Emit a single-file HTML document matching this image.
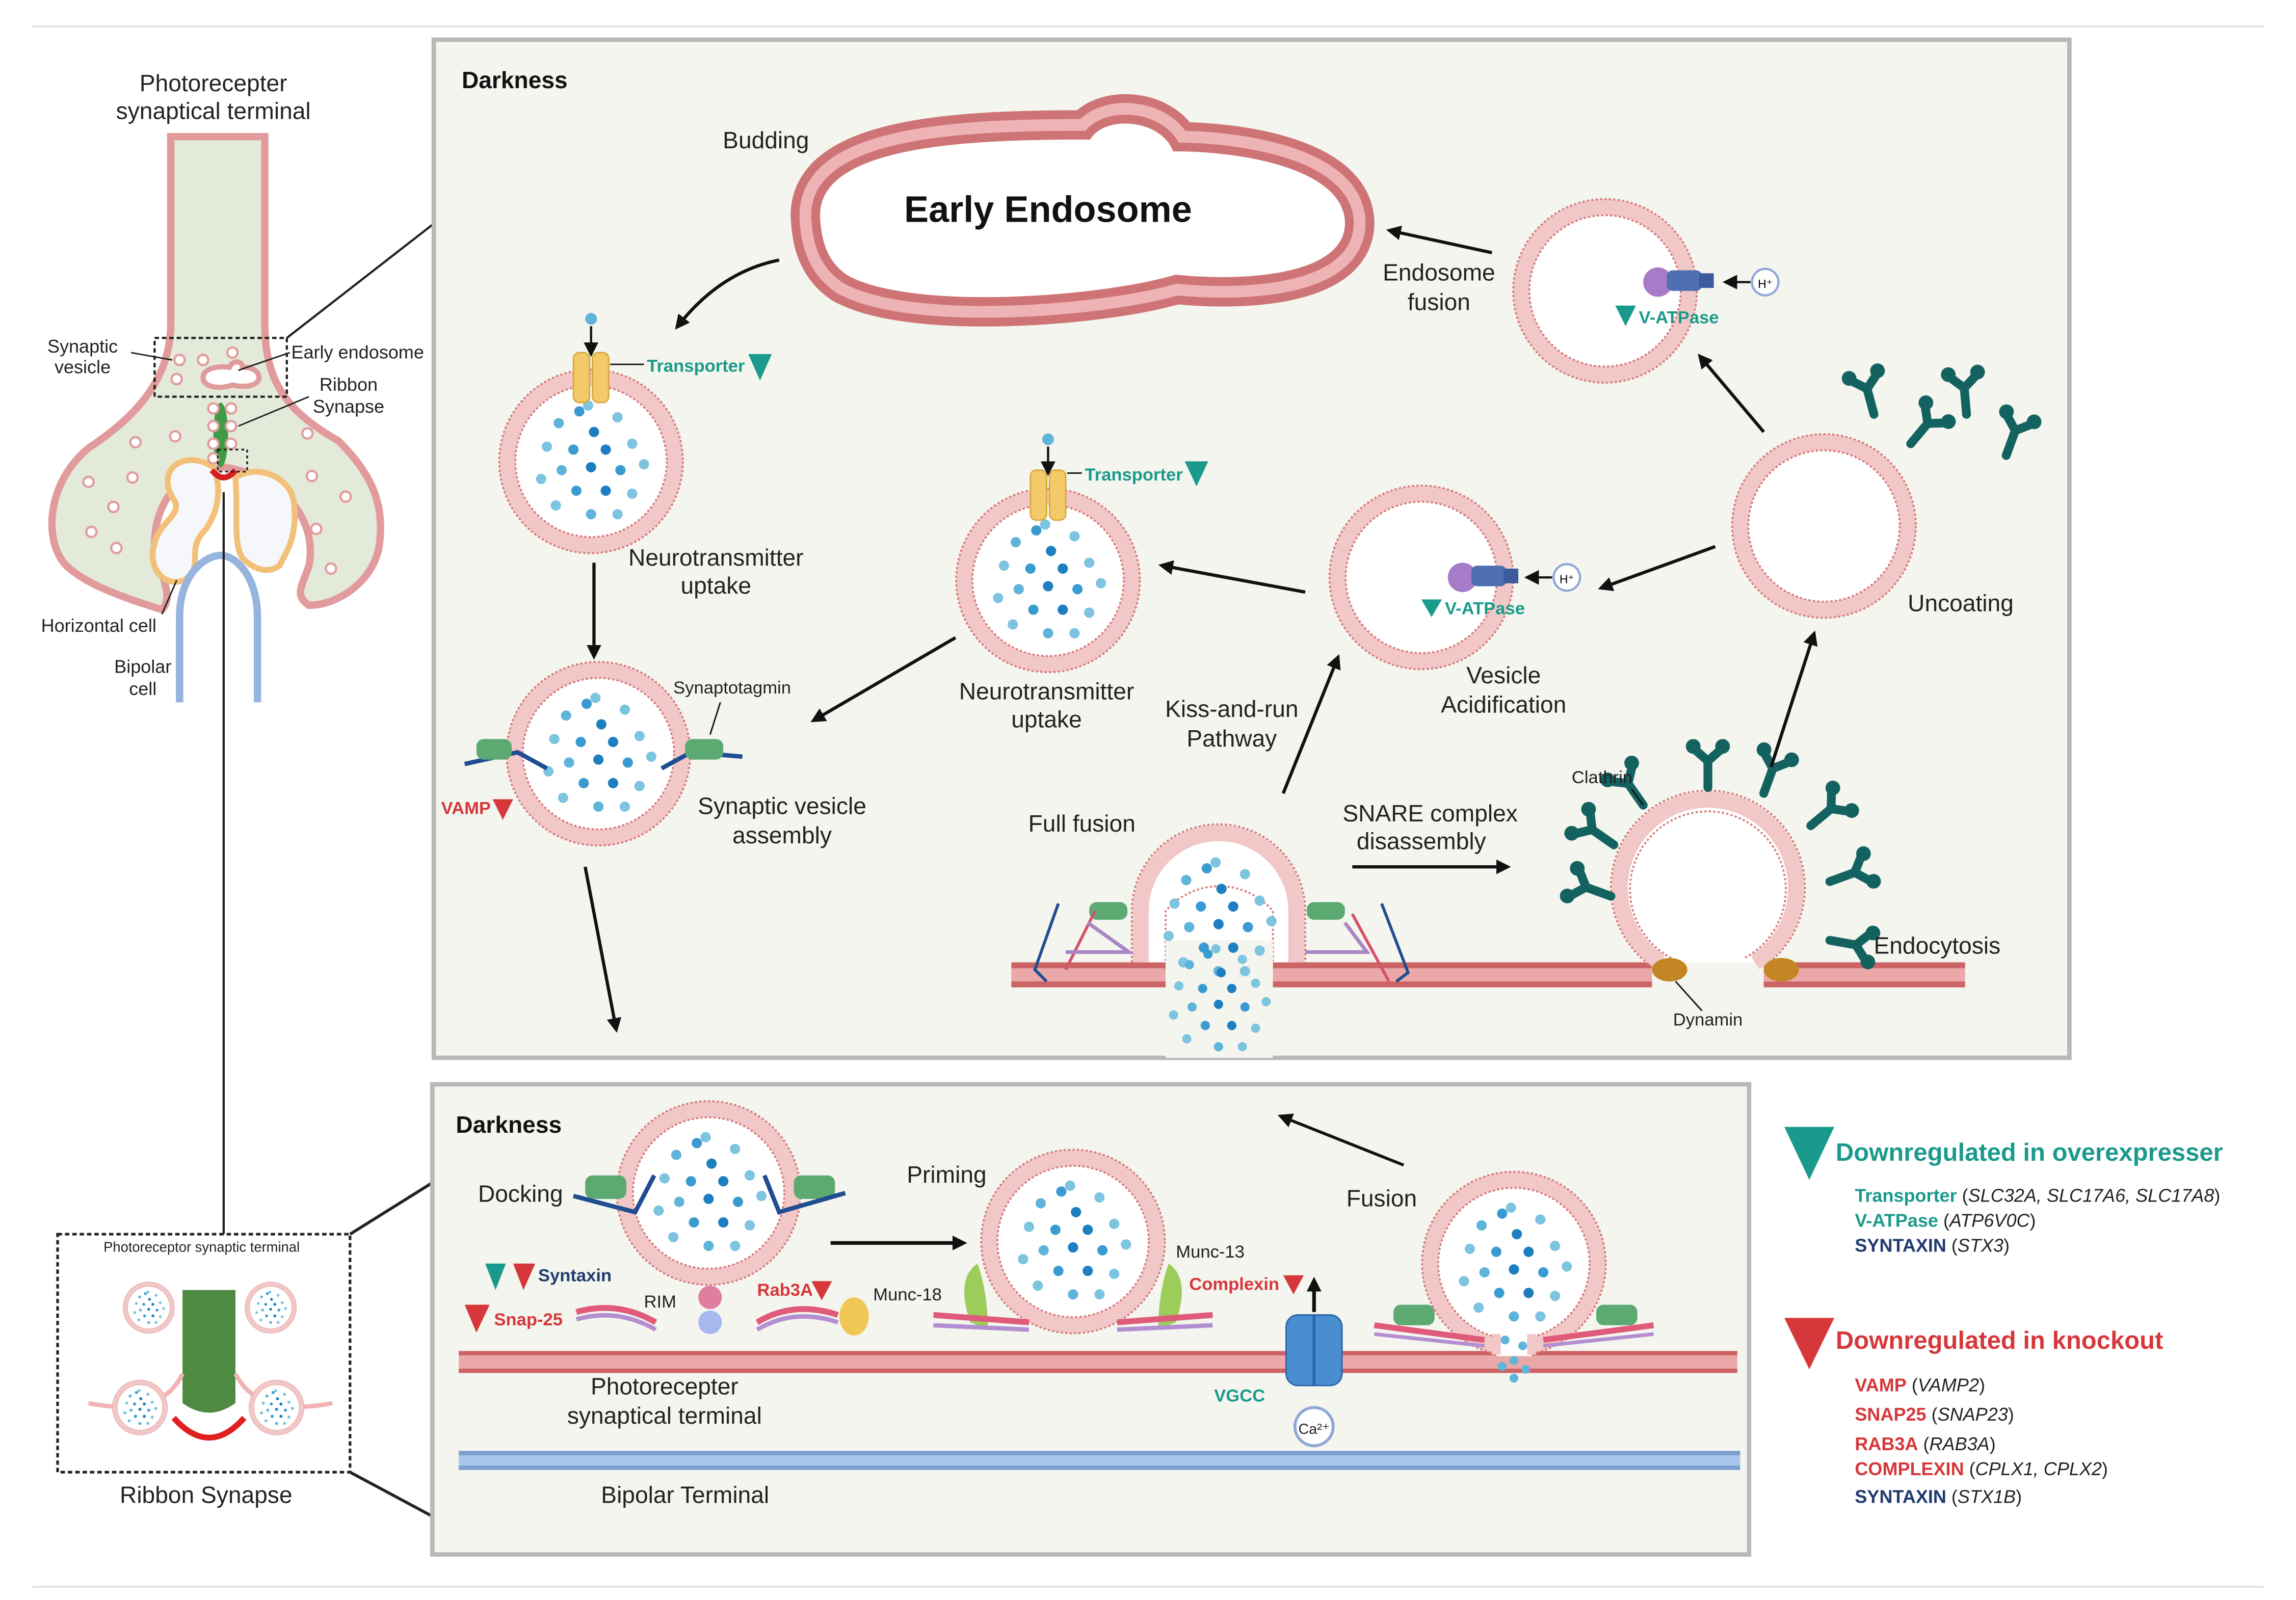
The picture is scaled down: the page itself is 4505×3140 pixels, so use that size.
<!DOCTYPE html>
<html><head><meta charset="utf-8"><style>
html,body{margin:0;padding:0;background:#fff;}
svg{display:block;}
text{font-family:"Liberation Sans",sans-serif;}
</style></head><body>
<svg width="4505" height="3140" viewBox="0 0 1562 1089" xmlns="http://www.w3.org/2000/svg">
<defs>
<marker id="ah" markerWidth="10" markerHeight="10" refX="7" refY="5" orient="auto" markerUnits="userSpaceOnUse"><path d="M0,0 L10,5 L0,10 Z" fill="#111"/></marker>
<g id="ves">
<circle r="57" fill="#fff" stroke="#f2c7c7" stroke-width="11"/>
<circle r="62.5" fill="none" stroke="#d77a7c" stroke-width="1.3" stroke-dasharray="1.5 1.5"/>
<circle r="51.5" fill="none" stroke="#d77a7c" stroke-width="1.3" stroke-dasharray="1.5 1.5"/>
</g>
<g id="dots">
<circle cx="-2" cy="-38" r="3.5" fill="#7cc4e0"/><circle cx="18" cy="-30" r="3.5" fill="#7cc4e0"/>
<circle cx="-22" cy="-26" r="3.5" fill="#5fb4da"/><circle cx="2" cy="-20" r="3.5" fill="#1d7fbf"/>
<circle cx="-30" cy="-10" r="3.5" fill="#7cc4e0"/><circle cx="-12" cy="-8" r="3.5" fill="#3a9bd0"/>
<circle cx="10" cy="-8" r="3.5" fill="#1d7fbf"/><circle cx="28" cy="-12" r="3.5" fill="#7cc4e0"/>
<circle cx="-20" cy="6" r="3.5" fill="#5fb4da"/><circle cx="0" cy="4" r="3.5" fill="#1d7fbf"/>
<circle cx="20" cy="6" r="3.5" fill="#3a9bd0"/><circle cx="36" cy="2" r="3.5" fill="#7cc4e0"/>
<circle cx="-34" cy="12" r="3.5" fill="#7cc4e0"/><circle cx="-10" cy="20" r="3.5" fill="#3a9bd0"/>
<circle cx="10" cy="20" r="3.5" fill="#1d7fbf"/><circle cx="28" cy="22" r="3.5" fill="#7cc4e0"/>
<circle cx="-24" cy="30" r="3.5" fill="#7cc4e0"/><circle cx="0" cy="36" r="3.5" fill="#5fb4da"/>
<circle cx="18" cy="36" r="3.5" fill="#7cc4e0"/><circle cx="-8" cy="-34" r="3.5" fill="#3a9bd0"/>
</g>
<g id="trans"><rect x="-12" y="-18" width="11" height="34" rx="4" fill="#f3c969" stroke="#d9a93a"/><rect x="1" y="-18" width="11" height="34" rx="4" fill="#f3c969" stroke="#d9a93a"/></g>
<g id="vat"><circle cx="-12" cy="0" r="10" fill="#a77bc7"/><rect x="-6" y="-8" width="24" height="14" rx="4" fill="#4f6fb3"/><rect x="16" y="-6" width="10" height="10" fill="#3c5b9e"/></g>
<g id="clat" fill="#136260"><path d="M0,0 L0,-18 M0,-18 L-9,-26 M0,-18 L9,-26" stroke="#136260" stroke-width="6" stroke-linecap="round"/><circle cx="-10" cy="-28" r="5"/><circle cx="10" cy="-28" r="5"/></g>
</defs>

<line x1="22" y1="18" x2="1540" y2="18" stroke="#e3e3e3" stroke-width="1.5"/>
<line x1="22" y1="1080" x2="1540" y2="1080" stroke="#e3e3e3" stroke-width="1.5"/>

<!-- LEFT FIGURE -->
<text x="145" y="62" font-size="16" text-anchor="middle" fill="#222">Photorecepter</text>
<text x="145" y="81" font-size="16" text-anchor="middle" fill="#222">synaptical terminal</text>
<path d="M116,93 L116,220 C116,260 90,285 60,305 C30,330 30,370 45,385 C60,400 95,410 110,415 C120,405 105,385 105,370 C105,340 125,320 145,320 L150,318 C155,318 165,320 175,325 C200,335 215,360 210,385 C205,400 200,405 210,412 C230,412 255,395 258,370 C262,340 250,320 230,300 C195,280 180,260 180,220 L180,93 Z" fill="#e3ead9" stroke="#e19b9c" stroke-width="5"/>
<path d="M118,340 C105,320 125,305 145,318 C150,330 150,345 140,360 C125,375 140,385 125,395 C110,400 100,385 105,370 C108,355 125,350 118,340 Z" fill="#f6f7fb" stroke="#f2c079" stroke-width="4"/>
<path d="M160,325 C175,315 200,325 200,345 C202,365 195,375 190,385 C180,392 170,385 165,380 C158,370 162,350 160,325 Z" fill="#f6f7fb" stroke="#f2c079" stroke-width="4"/>
<path d="M122,478 L122,420 C122,390 140,378 150,378 C160,378 175,392 175,420 L175,478" fill="none" stroke="#96b4dd" stroke-width="5"/>
<path d="M138,257 C138,250 150,249 156,250 C158,245 164,245 165,250 C172,250 176,253 176,257 C176,263 165,264 158,262 C150,265 138,264 138,257 Z" fill="#fff" stroke="#e19b9c" stroke-width="3.5"/>
<ellipse cx="150" cy="296" rx="5" ry="22" fill="#3f9b46"/>
<path d="M144,320 Q152,330 160,320" stroke="#d41f1f" stroke-width="4" fill="none"/>
<g fill="#fff" stroke="#e19b9c" stroke-width="1.5">
<circle cx="122" cy="245" r="3.5"/><circle cx="138" cy="245" r="3.5"/><circle cx="120" cy="258" r="3.5"/><circle cx="158" cy="240" r="3.5"/>
<circle cx="145" cy="278" r="3.5"/><circle cx="145" cy="290" r="3.5"/><circle cx="145" cy="302" r="3.5"/><circle cx="145" cy="312" r="3.5"/>
<circle cx="157" cy="278" r="3.5"/><circle cx="157" cy="290" r="3.5"/><circle cx="157" cy="302" r="3.5"/>
<circle cx="92" cy="301" r="3.5"/><circle cx="119" cy="297" r="3.5"/><circle cx="60" cy="328" r="3.5"/><circle cx="90" cy="325" r="3.5"/>
<circle cx="77" cy="345" r="3.5"/><circle cx="62" cy="362" r="3.5"/><circle cx="79" cy="373" r="3.5"/><circle cx="209" cy="295" r="3.5"/>
<circle cx="212" cy="324" r="3.5"/><circle cx="235" cy="338" r="3.5"/><circle cx="215" cy="360" r="3.5"/><circle cx="225" cy="387" r="3.5"/>
</g>
<rect x="105" y="230" width="90" height="40" fill="none" stroke="#222" stroke-width="1.5" stroke-dasharray="3 2"/>
<rect x="148" y="306" width="20" height="15" fill="none" stroke="#222" stroke-width="1.2" stroke-dasharray="2 2"/>
<line x1="89" y1="240" x2="117" y2="245" stroke="#222" stroke-width="1"/>
<line x1="197" y1="240" x2="162" y2="252" stroke="#222" stroke-width="1"/>
<line x1="210" y1="270" x2="162" y2="290" stroke="#222" stroke-width="1"/>
<line x1="110" y1="418" x2="120" y2="395" stroke="#222" stroke-width="1"/>
<text x="56" y="240" font-size="12.5" text-anchor="middle" fill="#222">Synaptic</text>
<text x="56" y="254" font-size="12.5" text-anchor="middle" fill="#222">vesicle</text>
<text x="198" y="244" font-size="12.5" fill="#222">Early endosome</text>
<text x="237" y="266" font-size="12.5" text-anchor="middle" fill="#222">Ribbon</text>
<text x="237" y="281" font-size="12.5" text-anchor="middle" fill="#222">Synapse</text>
<text x="67" y="430" font-size="12.5" text-anchor="middle" fill="#222">Horizontal cell</text>
<text x="97" y="458" font-size="12.5" text-anchor="middle" fill="#222">Bipolar</text>
<text x="97" y="473" font-size="12.5" text-anchor="middle" fill="#222">cell</text>

<line x1="195" y1="230" x2="294" y2="153" stroke="#222" stroke-width="1.5"/>
<line x1="152" y1="335" x2="152" y2="840" stroke="#222" stroke-width="1.5"/>
<line x1="238" y1="840" x2="294" y2="805" stroke="#222" stroke-width="2"/>
<line x1="238" y1="1002" x2="294" y2="1032" stroke="#222" stroke-width="2"/>

<rect x="39" y="840" width="199" height="162" fill="#fff" stroke="#222" stroke-width="1.8" stroke-dasharray="3 2"/>
<text x="137" y="852" font-size="9.5" text-anchor="middle" fill="#222">Photoreceptor synaptic terminal</text>
<path d="M124,878 L160,878 L160,955 Q142,968 124,955 Z" fill="#4f8a42"/>
<path d="M118,965 Q142,992 166,965" stroke="#e02020" stroke-width="4" fill="none"/>
<path d="M60,955 Q110,965 124,935 M226,955 Q175,965 160,935" stroke="#f1b3b3" stroke-width="3" fill="none"/>
<g transform="translate(101,890) scale(0.28)"><use href="#ves"/><use href="#dots"/></g>
<g transform="translate(184,890) scale(0.28)"><use href="#ves"/><use href="#dots"/></g>
<g transform="translate(95,958) scale(0.3)"><use href="#ves"/><use href="#dots"/></g>
<g transform="translate(188,958) scale(0.3)"><use href="#ves"/><use href="#dots"/></g>
<text x="140" y="1023" font-size="16" text-anchor="middle" fill="#222">Ribbon Synapse</text>

<!-- TOP PANEL -->
<rect x="295" y="27" width="1113" height="693" fill="#f3f5ee" stroke="#b8b8b8" stroke-width="3"/>
<text x="314" y="60" font-size="16" font-weight="bold" fill="#111">Darkness</text>

<path d="M555,150 C550,95 660,92 740,92 C752,75 790,78 800,100 C840,100 915,110 918,150 C920,190 850,195 800,190 C750,205 620,215 575,190 C560,180 556,165 555,150 Z" fill="#fff" stroke="#cf7476" stroke-width="34"/>
<path d="M555,150 C550,95 660,92 740,92 C752,75 790,78 800,100 C840,100 915,110 918,150 C920,190 850,195 800,190 C750,205 620,215 575,190 C560,180 556,165 555,150 Z" fill="none" stroke="#eeb3b4" stroke-width="22"/>
<path d="M555,150 C550,95 660,92 740,92 C752,75 790,78 800,100 C840,100 915,110 918,150 C920,190 850,195 800,190 C750,205 620,215 575,190 C560,180 556,165 555,150 Z" fill="#fff" stroke="#cf7476" stroke-width="6"/>
<text x="713" y="151" font-size="25" font-weight="bold" text-anchor="middle" fill="#111">Early Endosome</text>
<text x="521" y="101" font-size="16" text-anchor="middle" fill="#222">Budding</text>

<g transform="translate(402,314)"><use href="#ves"/><use href="#dots"/></g>
<g transform="translate(402,258)"><use href="#trans"/></g>
<circle cx="402" cy="217" r="4" fill="#5fb4da"/><line x1="402" y1="222" x2="402" y2="240" stroke="#111" stroke-width="1.5" marker-end="url(#ah)"/>
<line x1="415" y1="248" x2="438" y2="248" stroke="#111" stroke-width="1"/>
<text x="440" y="253" font-size="12" font-weight="bold" fill="#1a9a8c">Transporter</text>
<path d="M509,241 L525,241 L517,259 Z" fill="#1a9a8c"/>
<text x="487" y="385" font-size="16" text-anchor="middle" fill="#222">Neurotransmitter</text>
<text x="487" y="404" font-size="16" text-anchor="middle" fill="#222">uptake</text>

<g transform="translate(713,395)"><use href="#ves"/><use href="#dots"/></g>
<g transform="translate(713,338)"><use href="#trans"/></g>
<circle cx="713" cy="299" r="4" fill="#5fb4da"/><line x1="713" y1="304" x2="713" y2="321" stroke="#111" stroke-width="1.5" marker-end="url(#ah)"/>
<line x1="726" y1="322" x2="736" y2="322" stroke="#111" stroke-width="1"/>
<text x="738" y="327" font-size="12" font-weight="bold" fill="#1a9a8c">Transporter</text>
<path d="M806,314 L822,314 L814,331 Z" fill="#1a9a8c"/>
<text x="712" y="476" font-size="16" text-anchor="middle" fill="#222">Neurotransmitter</text>
<text x="712" y="495" font-size="16" text-anchor="middle" fill="#222">uptake</text>

<g transform="translate(407,513)"><use href="#ves"/><use href="#dots"/></g>
<path d="M316,520 L352,512 L372,523" stroke="#1f4d8f" stroke-width="3" fill="none"/>
<path d="M505,515 L470,512 L450,523" stroke="#1f4d8f" stroke-width="3" fill="none"/>
<rect x="324" y="503" width="24" height="14" rx="5" fill="#5caa72"/>
<rect x="466" y="503" width="26" height="14" rx="5" fill="#5caa72"/>
<line x1="483" y1="500" x2="490" y2="478" stroke="#111" stroke-width="1"/>
<text x="458" y="472" font-size="12" fill="#222">Synaptotagmin</text>
<text x="300" y="554" font-size="12" font-weight="bold" fill="#d6373a">VAMP</text>
<path d="M335,544 L349,544 L342,558 Z" fill="#d6373a"/>
<text x="532" y="554" font-size="16" text-anchor="middle" fill="#222">Synaptic vesicle</text>
<text x="532" y="574" font-size="16" text-anchor="middle" fill="#222">assembly</text>

<g transform="translate(967,393)"><use href="#ves"/></g>
<g transform="translate(1007,393)"><use href="#vat"/></g>
<circle cx="1066" cy="393" r="9" fill="#fff" stroke="#8fa7d8" stroke-width="1.5"/><text x="1066" y="397" font-size="8" text-anchor="middle">H⁺</text>
<line x1="1056" y1="393" x2="1040" y2="393" stroke="#111" stroke-width="1.5" marker-end="url(#ah)"/>
<path d="M967,408 L981,408 L974,420 Z" fill="#1a9a8c"/>
<text x="983" y="418" font-size="12" font-weight="bold" fill="#1a9a8c">V-ATPase</text>
<text x="1023" y="465" font-size="16" text-anchor="middle" fill="#222">Vesicle</text>
<text x="1023" y="485" font-size="16" text-anchor="middle" fill="#222">Acidification</text>
<text x="838" y="488" font-size="16" text-anchor="middle" fill="#222">Kiss-and-run</text>
<text x="838" y="508" font-size="16" text-anchor="middle" fill="#222">Pathway</text>

<g transform="translate(1092,198)"><use href="#ves"/></g>
<g transform="translate(1140,192)"><use href="#vat"/></g>
<circle cx="1201" cy="192" r="9" fill="#fff" stroke="#8fa7d8" stroke-width="1.5"/><text x="1201" y="196" font-size="8" text-anchor="middle">H⁺</text>
<line x1="1191" y1="192" x2="1175" y2="192" stroke="#111" stroke-width="1.5" marker-end="url(#ah)"/>
<path d="M1099,208 L1113,208 L1106,222 Z" fill="#1a9a8c"/>
<text x="1115" y="220" font-size="12" font-weight="bold" fill="#1a9a8c">V-ATPase</text>
<text x="979" y="191" font-size="16" text-anchor="middle" fill="#222">Endosome</text>
<text x="979" y="211" font-size="16" text-anchor="middle" fill="#222">fusion</text>

<g transform="translate(1241,358)"><use href="#ves"/></g>
<text x="1334" y="416" font-size="16" text-anchor="middle" fill="#222">Uncoating</text>
<g transform="translate(1275,282) rotate(-15)"><use href="#clat"/></g>
<g transform="translate(1300,302) rotate(40)"><use href="#clat"/></g>
<g transform="translate(1338,282) rotate(-5)"><use href="#clat"/></g>
<g transform="translate(1365,310) rotate(20)"><use href="#clat"/></g>

<g>
<rect x="688" y="655" width="105" height="17" fill="#eaa8a8"/>
<rect x="866" y="655" width="258" height="17" fill="#eaa8a8"/>
<rect x="1200" y="655" width="137" height="17" fill="#eaa8a8"/>
<g stroke="#cc6466" stroke-width="4">
<line x1="688" y1="657" x2="793" y2="657"/><line x1="688" y1="670" x2="793" y2="670"/>
<line x1="866" y1="657" x2="1124" y2="657"/><line x1="866" y1="670" x2="1124" y2="670"/>
<line x1="1200" y1="657" x2="1337" y2="657"/><line x1="1200" y1="670" x2="1337" y2="670"/>
</g></g>
<path d="M776,655 L776,620 A53,53 0 0 1 882,620 L882,655" fill="#fff" stroke="#f2c7c7" stroke-width="11"/>
<path d="M770,655 L770,620 A59,59 0 0 1 888,620 L888,655" fill="none" stroke="#d77a7c" stroke-width="1.3" stroke-dasharray="1.5 1.5"/>
<path d="M793,660 L793,620 A48,48 0 0 1 866,620 L866,660" fill="none" stroke="#d77a7c" stroke-width="1.3" stroke-dasharray="1.5 1.5"/>
<rect x="793" y="640" width="73" height="80" fill="#f3f5ee"/>
<g transform="translate(829,625)"><use href="#dots"/></g>
<g transform="translate(829,680) scale(0.9)"><use href="#dots"/></g>
<rect x="741" y="614" width="26" height="12" rx="5" fill="#5caa72"/>
<rect x="889" y="614" width="26" height="12" rx="5" fill="#5caa72"/>
<path d="M720,615 L704,660 L712,668" stroke="#1f4d8f" stroke-width="2" fill="none"/>
<path d="M745,620 L725,660" stroke="#d8506b" stroke-width="2" fill="none"/>
<path d="M940,615 L958,662 L950,668" stroke="#1f4d8f" stroke-width="2" fill="none"/>
<path d="M920,622 L945,668" stroke="#d8506b" stroke-width="2" fill="none"/>
<path d="M725,648 L768,648 L740,628 M888,648 L930,648 L915,628" stroke="#a986c4" stroke-width="2.5" fill="none"/>
<text x="736" y="566" font-size="16" text-anchor="middle" fill="#222">Full fusion</text>
<text x="973" y="559" font-size="16" text-anchor="middle" fill="#222">SNARE complex</text>
<text x="967" y="578" font-size="16" text-anchor="middle" fill="#222">disassembly</text>

<path d="M1130,655 A60,60 0 1 1 1194,655" fill="#fff" stroke="#f2c7c7" stroke-width="11"/>
<path d="M1124,658 A66,66 0 1 1 1200,658" fill="none" stroke="#d77a7c" stroke-width="1.3" stroke-dasharray="1.5 1.5"/>
<path d="M1137,652 A53,53 0 1 1 1187,652" fill="none" stroke="#d77a7c" stroke-width="1.3" stroke-dasharray="1.5 1.5"/>
<g transform="translate(1096,610) rotate(-70)"><use href="#clat"/></g>
<g transform="translate(1098,575) rotate(-55)"><use href="#clat"/></g>
<g transform="translate(1118,548) rotate(-35)"><use href="#clat"/></g>
<g transform="translate(1162,536) rotate(0)"><use href="#clat"/></g>
<g transform="translate(1200,540) rotate(20)"><use href="#clat"/></g>
<g transform="translate(1232,562) rotate(50)"><use href="#clat"/></g>
<g transform="translate(1245,600) rotate(70)"><use href="#clat"/></g>
<g transform="translate(1245,640) rotate(100)"><use href="#clat"/></g>
<ellipse cx="1136" cy="660" rx="12" ry="8" fill="#c48524"/>
<ellipse cx="1212" cy="660" rx="12" ry="8" fill="#c48524"/>
<line x1="1140" y1="668" x2="1158" y2="688" stroke="#111" stroke-width="1"/>
<text x="1162" y="698" font-size="12" text-anchor="middle" fill="#222">Dynamin</text>
<line x1="1110" y1="537" x2="1118" y2="548" stroke="#111" stroke-width="1"/>
<text x="1090" y="533" font-size="12" text-anchor="middle" fill="#222">Clathrin</text>
<text x="1318" y="649" font-size="16" text-anchor="middle" fill="#222">Endocytosis</text>

<g stroke="#111" stroke-width="2.2" fill="none" marker-end="url(#ah)">
<path d="M530,177 Q490,185 461,222"/>
<line x1="404" y1="383" x2="404" y2="446"/>
<line x1="398" y1="590" x2="419" y2="700"/>
<line x1="650" y1="434" x2="554" y2="490"/>
<line x1="888" y1="403" x2="791" y2="385"/>
<line x1="1167" y1="372" x2="1090" y2="400"/>
<line x1="1200" y1="294" x2="1157" y2="243"/>
<line x1="1015" y1="172" x2="946" y2="157"/>
<line x1="873" y1="540" x2="910" y2="448"/>
<line x1="1205" y1="522" x2="1234" y2="432"/>
<line x1="920" y1="590" x2="1025" y2="590"/>
</g>

<!-- BOTTOM PANEL -->
<rect x="294" y="738" width="896" height="320" fill="#f3f5ee" stroke="#b8b8b8" stroke-width="3"/>
<text x="310" y="771" font-size="16" font-weight="bold" fill="#111">Darkness</text>
<rect x="312" y="920" width="870" height="14" fill="#eaa8a8"/>
<line x1="312" y1="921" x2="1182" y2="921" stroke="#cc6466" stroke-width="3"/>
<line x1="312" y1="933" x2="1182" y2="933" stroke="#cc6466" stroke-width="3"/>
<rect x="312" y="988" width="872" height="12" fill="#a9c6ec"/>
<line x1="312" y1="989" x2="1184" y2="989" stroke="#7d9fd0" stroke-width="3"/>
<line x1="312" y1="999" x2="1184" y2="999" stroke="#7d9fd0" stroke-width="3"/>

<g transform="translate(482,812)"><use href="#ves"/><use href="#dots"/></g>
<rect x="398" y="800" width="28" height="16" rx="5" fill="#5caa72"/>
<rect x="540" y="800" width="28" height="16" rx="5" fill="#5caa72"/>
<path d="M390,814 L432,825 L445,800 M575,812 L530,825 L520,800" stroke="#1f4d8f" stroke-width="3" fill="none"/>
<text x="354" y="818" font-size="16" text-anchor="middle" fill="#222">Docking</text>
<circle cx="483" cy="883" r="8" fill="#e07ea0"/><circle cx="483" cy="900" r="8" fill="#a7b8ee"/>
<path d="M392,893 Q420,885 446,900 M515,900 Q540,885 570,895" stroke="#e05a7a" stroke-width="4" fill="none"/>
<path d="M392,898 Q420,890 446,905 M515,905 Q540,890 570,900" stroke="#b38fd1" stroke-width="3" fill="none"/>
<ellipse cx="581" cy="896" rx="10" ry="13" fill="#efc755"/>
<text x="460" y="890" font-size="12" text-anchor="end" fill="#222">RIM</text>
<text x="515" y="882" font-size="12" font-weight="bold" fill="#d6373a">Rab3A</text>
<path d="M552,872 L566,872 L559,885 Z" fill="#d6373a"/>
<text x="594" y="885" font-size="12" fill="#222">Munc-18</text>
<path d="M330,860 L344,860 L337,878 Z" fill="#1a9a8c"/>
<path d="M349,860 L364,860 L356,878 Z" fill="#d6373a"/>
<text x="366" y="872" font-size="12" font-weight="bold" fill="#1f3a6e">Syntaxin</text>
<path d="M316,888 L333,888 L324,907 Z" fill="#d6373a"/>
<text x="336" y="902" font-size="12" font-weight="bold" fill="#d6373a">Snap-25</text>
<text x="452" y="949" font-size="16" text-anchor="middle" fill="#222">Photorecepter</text>
<text x="452" y="969" font-size="16" text-anchor="middle" fill="#222">synaptical terminal</text>
<text x="466" y="1023" font-size="16" text-anchor="middle" fill="#222">Bipolar Terminal</text>

<line x1="565" y1="846" x2="655" y2="846" stroke="#111" stroke-width="2.5" marker-end="url(#ah)"/>
<text x="644" y="805" font-size="16" text-anchor="middle" fill="#222">Priming</text>
<g transform="translate(730,845)"><use href="#ves"/><use href="#dots"/></g>
<path d="M660,900 Q650,870 665,860 Q672,880 672,905" fill="#9ccc5a"/>
<path d="M800,900 Q810,870 795,860 Q788,880 788,905" fill="#9ccc5a"/>
<path d="M635,895 L700,900 M760,900 L825,895" stroke="#e05a7a" stroke-width="4" fill="none"/>
<path d="M635,902 L700,905 M760,905 L825,902" stroke="#b38fd1" stroke-width="3" fill="none"/>
<text x="800" y="856" font-size="12" fill="#222">Munc-13</text>
<text x="809" y="878" font-size="12" font-weight="bold" fill="#d6373a">Complexin</text>
<path d="M873,868 L887,868 L880,881 Z" fill="#d6373a"/>

<rect x="875" y="895" width="38" height="48" rx="8" fill="#4a8ed0" stroke="#2a66a8"/>
<line x1="894" y1="895" x2="894" y2="943" stroke="#2a66a8" stroke-width="2"/>
<line x1="894" y1="893" x2="894" y2="872" stroke="#111" stroke-width="2.5" marker-end="url(#ah)"/>
<text x="826" y="954" font-size="12" font-weight="bold" fill="#1a9a8c">VGCC</text>
<circle cx="894" cy="971" r="13" fill="#fff" stroke="#8fa7d8" stroke-width="2"/>
<text x="894" y="976" font-size="10" text-anchor="middle" fill="#222">Ca²⁺</text>

<!-- fusion vesicle -->
<g transform="translate(1030,860)"><use href="#ves"/><use href="#dots"/></g>
<rect x="1018" y="905" width="24" height="18" fill="#fff"/>
<path d="M1018,908 L1018,922 M1042,908 L1042,922" stroke="#f2c7c7" stroke-width="6"/>
<g fill="#5fb4da"><circle cx="1024" cy="912" r="3"/><circle cx="1036" cy="916" r="3"/><circle cx="1030" cy="926" r="3"/><circle cx="1022" cy="930" r="3"/><circle cx="1038" cy="932" r="3"/><circle cx="1030" cy="938" r="3"/></g>
<rect x="948" y="888" width="28" height="14" rx="5" fill="#5caa72"/>
<rect x="1086" y="888" width="28" height="14" rx="5" fill="#5caa72"/>
<path d="M935,902 L1010,912 M1050,912 L1125,902" stroke="#e05a7a" stroke-width="4" fill="none"/>
<path d="M935,908 L1010,916 M1050,916 L1125,908" stroke="#b38fd1" stroke-width="2.5" fill="none"/>
<text x="940" y="821" font-size="16" text-anchor="middle" fill="#222">Fusion</text>
<line x1="955" y1="793" x2="872" y2="760" stroke="#111" stroke-width="2" marker-end="url(#ah)"/>

<!-- LEGEND -->
<path d="M1214,767 L1248,767 L1231,803 Z" fill="#1a9a8c"/>
<text x="1249" y="790" font-size="17" font-weight="bold" fill="#1a9a8c">Downregulated in overexpresser</text>
<text x="1262" y="818" font-size="12.5" fill="#222"><tspan font-weight="bold" fill="#1a9a8c">Transporter</tspan> (<tspan font-style="italic">SLC32A, SLC17A6, SLC17A8</tspan>)</text>
<text x="1262" y="835" font-size="12.5" fill="#222"><tspan font-weight="bold" fill="#1a9a8c">V-ATPase</tspan> (<tspan font-style="italic">ATP6V0C</tspan>)</text>
<text x="1262" y="852" font-size="12.5" fill="#222"><tspan font-weight="bold" fill="#1f3a6e">SYNTAXIN</tspan> (<tspan font-style="italic">STX3</tspan>)</text>
<path d="M1214,897 L1248,897 L1231,932 Z" fill="#d6373a"/>
<text x="1249" y="918" font-size="17" font-weight="bold" fill="#d6373a">Downregulated in knockout</text>
<text x="1262" y="947" font-size="12.5" fill="#222"><tspan font-weight="bold" fill="#d6373a">VAMP</tspan> (<tspan font-style="italic">VAMP2</tspan>)</text>
<text x="1262" y="967" font-size="12.5" fill="#222"><tspan font-weight="bold" fill="#d6373a">SNAP25</tspan> (<tspan font-style="italic">SNAP23</tspan>)</text>
<text x="1262" y="987" font-size="12.5" fill="#222"><tspan font-weight="bold" fill="#d6373a">RAB3A</tspan> (<tspan font-style="italic">RAB3A</tspan>)</text>
<text x="1262" y="1004" font-size="12.5" fill="#222"><tspan font-weight="bold" fill="#d6373a">COMPLEXIN</tspan> (<tspan font-style="italic">CPLX1, CPLX2</tspan>)</text>
<text x="1262" y="1023" font-size="12.5" fill="#222"><tspan font-weight="bold" fill="#1f3a6e">SYNTAXIN</tspan> (<tspan font-style="italic">STX1B</tspan>)</text>
</svg>
</body></html>
